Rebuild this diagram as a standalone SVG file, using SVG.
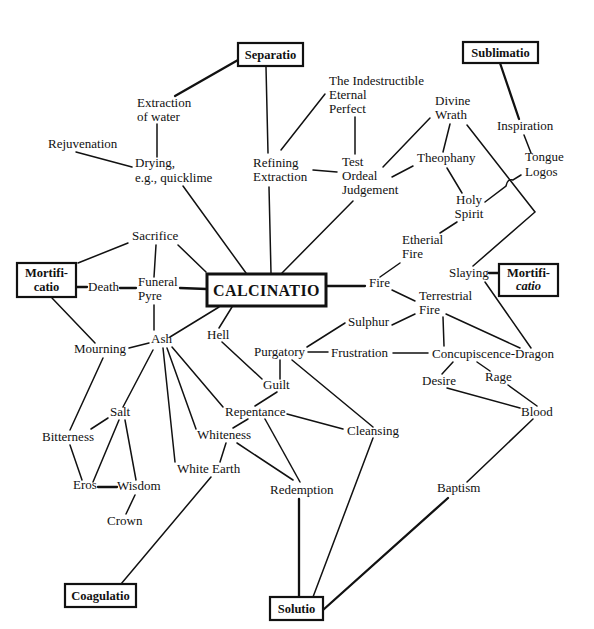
<svg xmlns="http://www.w3.org/2000/svg" width="594" height="629" viewBox="0 0 594 629">
<style>
text{font-family:"Liberation Serif","Times New Roman",serif;font-size:13px;fill:#111}
.b{font-weight:bold;font-size:12.5px}
.box{fill:#fff;stroke:#111;stroke-width:2.2}
.c line,.c path{stroke:#111;stroke-width:1.5;fill:none;stroke-linecap:round}
.c .t{stroke-width:2.3}
.m{text-anchor:middle}
</style>
<rect width="594" height="629" fill="#fff"/>
<g class="c" id="connectors">
<line class="t" x1="238" y1="60" x2="175" y2="96"/>
<line x1="266" y1="67" x2="268" y2="153"/>
<line x1="157" y1="124" x2="157" y2="157"/>
<line x1="76" y1="152" x2="132" y2="167"/>
<line x1="183" y1="186" x2="246" y2="273"/>
<line x1="269" y1="187" x2="271" y2="273"/>
<line x1="281" y1="150" x2="325" y2="94"/>
<line x1="355" y1="117" x2="355" y2="154"/>
<line x1="313" y1="170" x2="337" y2="172"/>
<line x1="353" y1="201" x2="282" y2="273"/>
<line x1="383" y1="167" x2="430" y2="118"/>
<line x1="392" y1="177" x2="413" y2="166"/>
<line x1="450" y1="124" x2="443" y2="152"/>
<line x1="447" y1="168" x2="462" y2="193"/>
<path d="M485,202 L506,186 C507,181 509,179 513,180 L521,175"/>
<path d="M467,125 L535,212 L473,266"/>
<line class="t" x1="500" y1="63" x2="519" y2="119"/>
<line x1="524" y1="135" x2="531" y2="153"/>
<line x1="457" y1="222" x2="440" y2="233"/>
<line x1="400" y1="263" x2="380" y2="277"/>
<line class="t" x1="326" y1="286" x2="365" y2="286"/>
<line x1="392" y1="290" x2="415" y2="301"/>
<line class="t" x1="489" y1="273" x2="499" y2="273"/>
<line x1="485" y1="282" x2="531" y2="348"/>
<line x1="415" y1="314" x2="392" y2="325"/>
<line x1="443" y1="317" x2="444" y2="346"/>
<line x1="446" y1="314" x2="520" y2="348"/>
<line x1="345" y1="323" x2="307" y2="347"/>
<line x1="308" y1="352" x2="328" y2="352"/>
<line x1="393" y1="353" x2="428" y2="353"/>
<line x1="453" y1="362" x2="442" y2="374"/>
<line x1="477" y1="362" x2="490" y2="371"/>
<line x1="447" y1="388" x2="520" y2="408"/>
<line x1="508" y1="385" x2="537" y2="406"/>
<line x1="533" y1="419" x2="467" y2="482"/>
<line class="t" x1="448" y1="498" x2="323" y2="610"/>
<line x1="292" y1="360" x2="373" y2="427"/>
<line x1="280" y1="360" x2="280" y2="379"/>
<line x1="222" y1="342" x2="262" y2="379"/>
<line x1="232" y1="307" x2="219" y2="328"/>
<line x1="219" y1="307" x2="170" y2="337"/>
<line x1="277" y1="392" x2="255" y2="406"/>
<line x1="287" y1="414" x2="343" y2="429"/>
<line x1="248" y1="419" x2="233" y2="428"/>
<line x1="265" y1="419" x2="300" y2="482"/>
<line x1="237" y1="443" x2="293" y2="480"/>
<line x1="226" y1="443" x2="220" y2="462"/>
<line x1="211" y1="477" x2="121" y2="584"/>
<line class="t" x1="299" y1="499" x2="299" y2="597"/>
<line x1="373" y1="438" x2="313" y2="597"/>
<line x1="172" y1="347" x2="223" y2="407"/>
<line x1="167" y1="348" x2="196" y2="429"/>
<line x1="163" y1="348" x2="175" y2="462"/>
<line x1="153" y1="350" x2="123" y2="407"/>
<line x1="129" y1="348" x2="149" y2="343"/>
<line x1="154" y1="305" x2="154" y2="330"/>
<line x1="156" y1="245" x2="154" y2="277"/>
<line x1="178" y1="245" x2="206" y2="272"/>
<line x1="128" y1="243" x2="78" y2="263"/>
<line class="t" x1="77" y1="287" x2="87" y2="287"/>
<line class="t" x1="120" y1="288" x2="136" y2="288"/>
<line class="t" x1="180" y1="288" x2="207" y2="289"/>
<line x1="52" y1="298" x2="95" y2="343"/>
<line x1="103" y1="358" x2="70" y2="430"/>
<line x1="108" y1="418" x2="91" y2="429"/>
<line x1="119" y1="420" x2="93" y2="482"/>
<line x1="125" y1="420" x2="136" y2="480"/>
<line x1="70" y1="445" x2="82" y2="480"/>
<line class="t" x1="98" y1="487" x2="117" y2="487"/>
<line x1="135" y1="495" x2="126" y2="514"/>
</g>
<g id="separatio"><rect class="box" x="238" y="43" width="65" height="23"/><text class="b m" x="270.5" y="59">Separatio</text></g>
<g id="sublimatio"><rect class="box" x="463" y="42" width="75" height="21"/><text class="b m" x="500.5" y="57">Sublimatio</text></g>
<g id="calcinatio"><rect class="box" style="stroke-width:3" x="207" y="274" width="119" height="32"/><text class="m" style="font-weight:bold;font-size:16px;letter-spacing:0.4px" x="266.5" y="296">CALCINATIO</text></g>
<g id="mortificatio-left"><rect class="box" x="17" y="263" width="59" height="34"/><text class="b m" x="46.5" y="277">Mortifi-</text><text class="b m" x="46.5" y="291">catio</text></g>
<g id="mortificatio-right"><rect class="box" x="499" y="264" width="59" height="32"/><text class="b m" x="528.5" y="277">Mortifi-</text><text class="b m" x="528.5" y="290" style="font-style:italic">catio</text></g>
<g id="coagulatio"><rect class="box" x="65" y="584" width="71" height="23"/><text class="b m" x="100.5" y="600">Coagulatio</text></g>
<g id="solutio"><rect class="box" x="270" y="597" width="53" height="23"/><text class="b m" x="296.5" y="613">Solutio</text></g>
<g id="extraction-water"><text x="137" y="107">Extraction</text><text x="137" y="121">of water</text></g>
<g id="rejuvenation"><text x="48" y="148">Rejuvenation</text></g>
<g id="drying"><text x="135" y="167">Drying,</text><text x="135" y="182">e.g., quicklime</text></g>
<g id="refining"><text x="253" y="167">Refining</text><text x="253" y="181">Extraction</text></g>
<g id="indestructible"><text x="329" y="85">The Indestructible</text><text x="329" y="99">Eternal</text><text x="329" y="113">Perfect</text></g>
<g id="test"><text x="342" y="166">Test</text><text x="342" y="180">Ordeal</text><text x="342" y="194">Judgement</text></g>
<g id="divine-wrath"><text x="435" y="105">Divine</text><text x="435" y="119">Wrath</text></g>
<g id="inspiration"><text x="497" y="130">Inspiration</text></g>
<g id="tongue-logos"><text x="525" y="161">Tongue</text><text x="525" y="176">Logos</text></g>
<g id="theophany"><text x="417" y="162">Theophany</text></g>
<g id="holy-spirit"><text class="m" x="469" y="204">Holy</text><text class="m" x="469" y="218">Spirit</text></g>
<g id="etherial-fire"><text x="402" y="244">Etherial</text><text x="402" y="258">Fire</text></g>
<g id="fire"><text x="369" y="287">Fire</text></g>
<g id="terrestrial-fire"><text x="419" y="300">Terrestrial</text><text x="419" y="314">Fire</text></g>
<g id="slaying"><text x="449" y="277">Slaying</text></g>
<g id="sulphur"><text x="348" y="326">Sulphur</text></g>
<g id="frustration"><text x="331" y="357">Frustration</text></g>
<g id="concupiscence"><text x="432" y="358">Concupiscence-Dragon</text></g>
<g id="purgatory"><text x="254" y="356">Purgatory</text></g>
<g id="desire"><text x="422" y="385">Desire</text></g>
<g id="rage"><text x="485" y="381">Rage</text></g>
<g id="blood"><text x="521" y="416">Blood</text></g>
<g id="hell"><text x="207" y="339">Hell</text></g>
<g id="guilt"><text x="263" y="389">Guilt</text></g>
<g id="repentance"><text x="225" y="416">Repentance</text></g>
<g id="cleansing"><text x="347" y="435">Cleansing</text></g>
<g id="whiteness"><text x="197" y="439">Whiteness</text></g>
<g id="white-earth"><text x="177" y="473">White Earth</text></g>
<g id="redemption"><text x="270" y="494">Redemption</text></g>
<g id="baptism"><text x="437" y="492">Baptism</text></g>
<g id="sacrifice"><text x="132" y="240">Sacrifice</text></g>
<g id="death"><text x="88" y="291">Death</text></g>
<g id="funeral-pyre"><text x="138" y="286">Funeral</text><text x="138" y="300">Pyre</text></g>
<g id="ash"><text x="151" y="343">Ash</text></g>
<g id="mourning"><text x="74" y="353">Mourning</text></g>
<g id="salt"><text x="110" y="416">Salt</text></g>
<g id="bitterness"><text x="42" y="441">Bitterness</text></g>
<g id="eros"><text x="73" y="489">Eros</text></g>
<g id="wisdom"><text x="117" y="490">Wisdom</text></g>
<g id="crown"><text x="107" y="525">Crown</text></g>
</svg>
